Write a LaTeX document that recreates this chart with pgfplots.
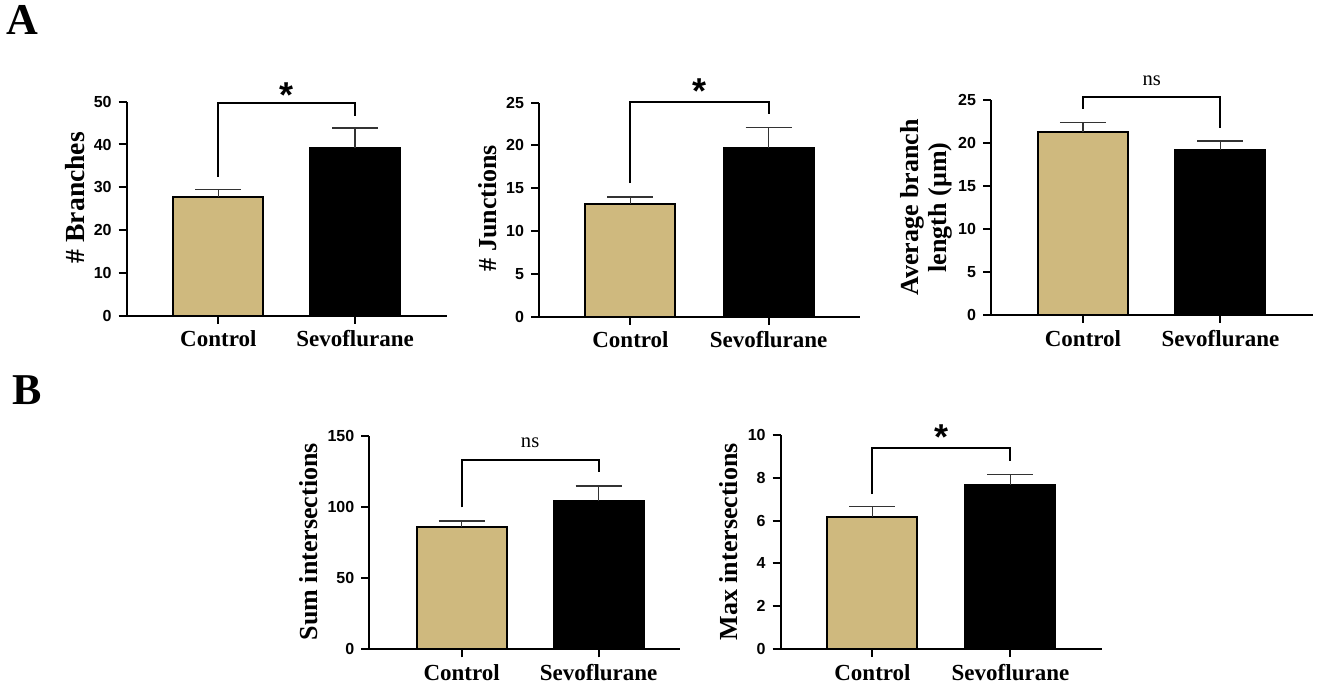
\documentclass[border=0pt]{standalone}
\usepackage{pgfplots}
\pgfplotsset{compat=1.18}
\usepackage{fontspec}
\setmainfont{Liberation Serif}
\setsansfont{Liberation Sans}
\definecolor{tanbar}{RGB}{207,185,126}
\tikzset{
 sigstar/.style={font=\fontsize{18}{18}\sffamily\bfseries, anchor=base},
 nslabel/.style={font=\fontsize{10.3}{11}\selectfont, anchor=base},
}
\pgfplotsset{
 panel/.style={
  scale only axis, anchor=south west,
  axis x line=bottom, axis y line=left,
  axis line style={-, line width=1pt, black},
  xmin=-0.67, xmax=1.67, ymin=0, enlargelimits=false,
  xtick={0,1}, xticklabels={Control,Sevoflurane},
  tick align=outside, major tick length=4pt,
  tick style={line width=1pt, black},
  xticklabel style={font=\fontsize{11.5}{13}\selectfont\bfseries},
  yticklabel style={font=\fontsize{8}{9}\sffamily\bfseries},
  /pgf/number format/assume math mode=true,
  ylabel style={font=\fontsize{13}{14}\selectfont\bfseries, align=center, anchor=center},
  clip=false,
 },
 errs/.style={error bars/.cd, y dir=plus, y explicit, error mark=|,
   error bar style={line width=0.8pt, black!80},
   error mark options={mark size=11.5pt, line width=0.8pt, black!80}},
 ctrl/.style={ybar, bar width=45pt, bar shift=0pt, fill=tanbar, draw=black, line width=1pt, errs},
 sevo/.style={ybar, bar width=45pt, bar shift=0pt, fill=black, draw=black, line width=1pt, errs},
 brk/.style={line width=1pt, black, mark=none},
}
\begin{document}
\begin{tikzpicture}
\useasboundingbox (0,0) rectangle (658.5pt,344pt);
\node[font=\fontsize{22}{22}\selectfont\bfseries, anchor=base west, inner sep=0pt] at (3pt,326.5pt) {A};
\node[font=\fontsize{22}{22}\selectfont\bfseries, anchor=base west, inner sep=0pt] at (6pt,141.5pt) {B};

% Panel A1
\begin{axis}[panel, at={(63.35pt,186.15pt)}, width=160pt, height=107pt,
  ymax=50, ytick={0,10,20,30,40,50},
  ylabel={\# Branches}, ylabel style={at={(axis description cs:-0.162,0.552)}, font=\fontsize{13.8}{14}\selectfont\bfseries}]
\addplot[ctrl] coordinates {(0,27.8) +- (0,1.7)};
\addplot[sevo] coordinates {(1,39.1) +- (0,4.7)};
\addplot[brk] coordinates {(0,32.5) (0,49.8) (1,49.8) (1,46.7)};
\node[sigstar] at (axis cs:0.5,48.6) {*};
\end{axis}

% Panel A2
\begin{axis}[panel, at={(269.5pt,185.65pt)}, width=160.5pt, height=107pt,
  xmin=-0.662, xmax=1.661,
  ymax=25, ytick={0,5,10,15,20,25},
  ylabel={\# Junctions}, ylabel style={at={(axis description cs:-0.160,0.507)}}]
\addplot[ctrl] coordinates {(0,13.2) +- (0,0.8)};
\addplot[sevo] coordinates {(1,19.67) +- (0,2.43)};
\addplot[brk] coordinates {(0,15.6) (0,25.1) (1,25.1) (1,23.7)};
\node[sigstar] at (axis cs:0.5,24.9) {*};
\end{axis}

% Panel A3
\begin{axis}[panel, at={(495.5pt,186.5pt)}, width=161pt, height=107.5pt,
  xmin=-0.669, xmax=1.673,
  ymax=25, ytick={0,5,10,15,20,25},
  ylabel={Average branch\\length (µm)}, ylabel style={at={(axis description cs:-0.202,0.5)}}]
\addplot[ctrl] coordinates {(0,21.24) +- (0,1.16)};
\addplot[sevo] coordinates {(1,19.19) +- (0,1.04)};
\addplot[brk] coordinates {(0,24.0) (0,25.4) (1,25.4) (1,21.7)};
\node[nslabel] at (axis cs:0.5,26.74) {ns};
\end{axis}

% Panel B1
\begin{axis}[panel, at={(184.65pt,19.35pt)}, width=155.3pt, height=106.8pt,
  xmin=-0.674, xmax=1.593,
  ymax=150, ytick={0,50,100,150},
  ylabel={Sum intersections}, ylabel style={at={(axis description cs:-0.194,0.504)}}]
\addplot[ctrl] coordinates {(0,85.7) +- (0,4.6)};
\addplot[sevo] coordinates {(1,104.4) +- (0,10.3)};
\addplot[brk] coordinates {(0,99.7) (0,132.9) (1,132.9) (1,124.7)};
\node[nslabel] at (axis cs:0.5,141.6) {ns};
\end{axis}

% Panel B2
\begin{axis}[panel, at={(390.35pt,19.5pt)}, width=160.5pt, height=107pt,
  xmin=-0.665, xmax=1.661,
  ymax=10, ytick={0,2,4,6,8,10},
  ylabel={Max intersections}, ylabel style={at={(axis description cs:-0.161,0.501)}}]
\addplot[ctrl] coordinates {(0,6.18) +- (0,0.47)};
\addplot[sevo] coordinates {(1,7.66) +- (0,0.49)};
\addplot[brk] coordinates {(0,7.24) (0,9.38) (1,9.38) (1,8.79)};
\node[sigstar] at (axis cs:0.5,9.3) {*};
\end{axis}
\end{tikzpicture}
\end{document}
